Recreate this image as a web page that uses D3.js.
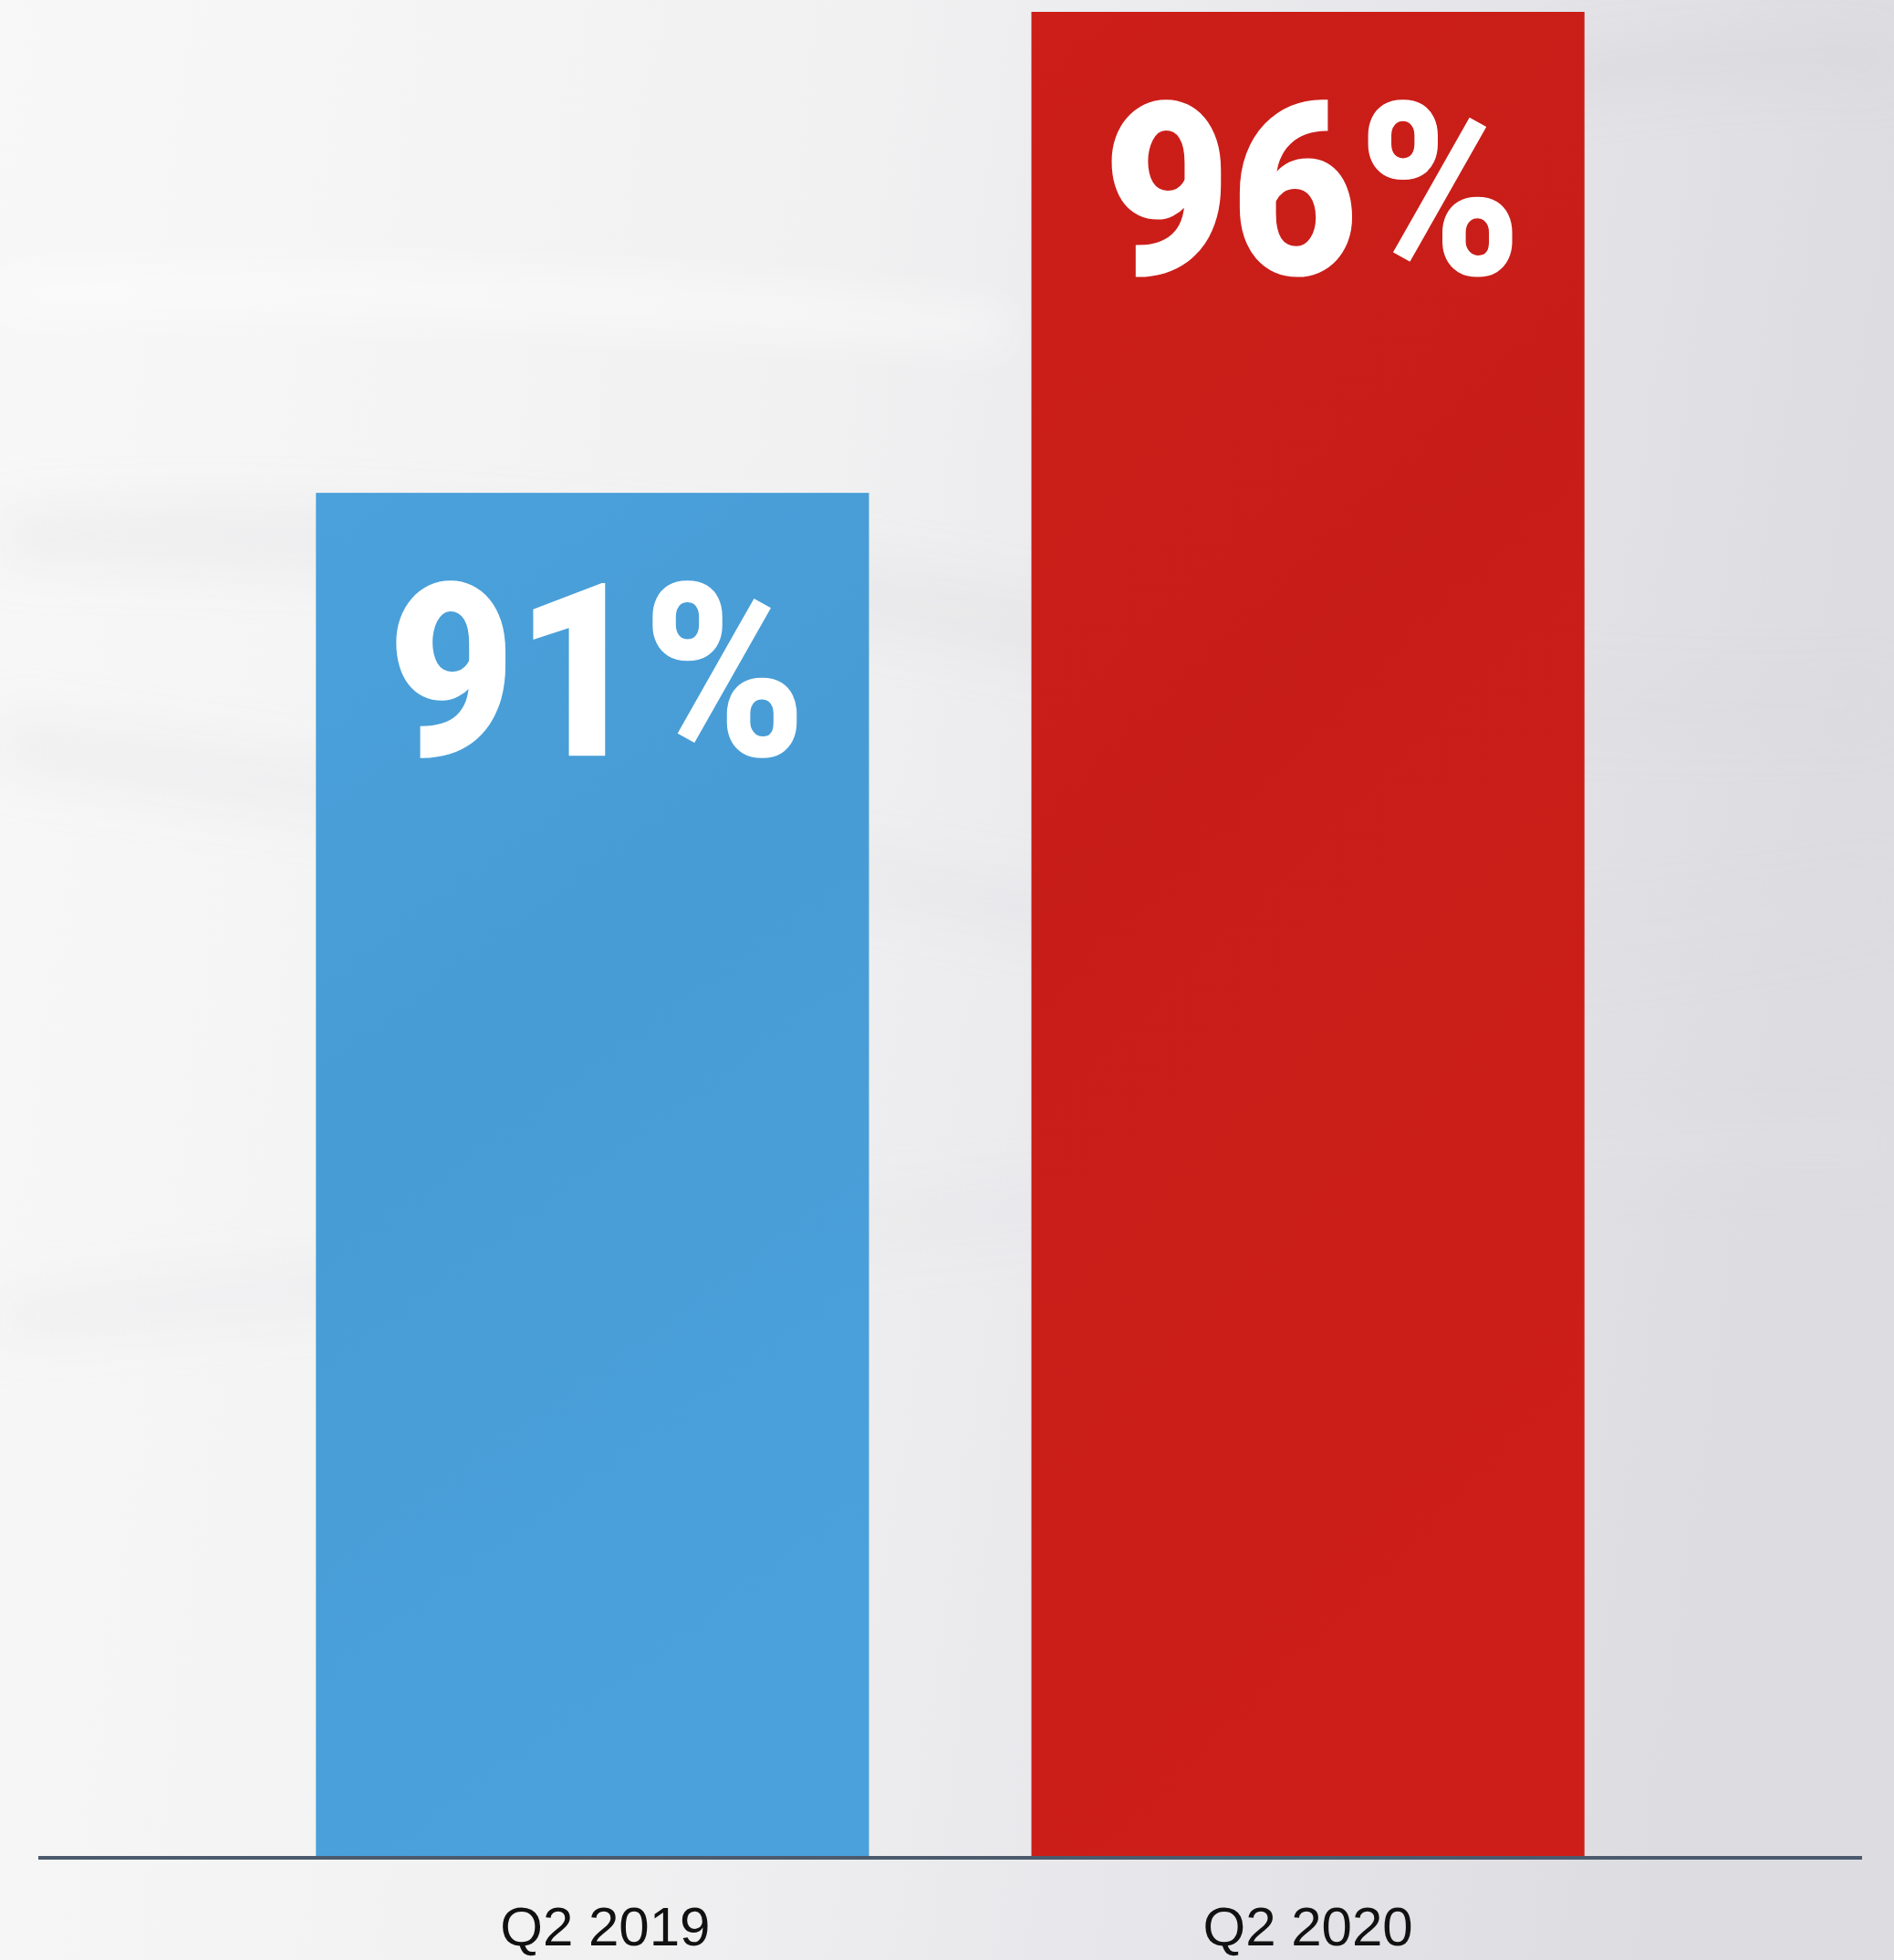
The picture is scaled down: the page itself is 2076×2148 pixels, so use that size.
<!DOCTYPE html>
<html>
<head>
<meta charset="utf-8">
<script src="https://cdn.jsdelivr.net/npm/d3@7"></script>
<style>
  html, body { margin: 0; padding: 0; background: #f2f2f3; }
  svg { display: block; }
</style>
</head>
<body>
<div id="chart"></div>
<script>
// data
var quarters = ["Q2 2019", "Q2 2020"];
var shares = [91, 96];
var valueLabels = ["91%", "96%"];
var barColors = ["#4aa1db", "#cd1e19"];

var width = 2076, height = 2148;
var baseY = 2034;

var svg = d3.select("#chart").append("svg")
    .attr("width", width)
    .attr("height", height);

var defs = svg.append("defs");

// soft grey backdrop, lighter on the left
var bg = defs.append("linearGradient").attr("id", "bg")
    .attr("x1", 0).attr("y1", 0).attr("x2", 1).attr("y2", 0.15);
bg.append("stop").attr("offset", "0%").attr("stop-color", "#f8f8f8");
bg.append("stop").attr("offset", "45%").attr("stop-color", "#f1f1f2");
bg.append("stop").attr("offset", "75%").attr("stop-color", "#e6e6ea");
bg.append("stop").attr("offset", "100%").attr("stop-color", "#dcdce1");

defs.append("filter").attr("id", "blur")
    .attr("x", "-20%").attr("y", "-50%").attr("width", "140%").attr("height", "200%")
  .append("feGaussianBlur").attr("stdDeviation", 25);

// gentle top-to-bottom variation on the bars
rows0 = barColors.map(function (c, i) {
    var g = defs.append("linearGradient").attr("id", "bar" + i)
        .attr("x1", 0).attr("y1", 0).attr("x2", 0.3).attr("y2", 1);
    g.append("stop").attr("offset", "0%").attr("stop-color", c);
    g.append("stop").attr("offset", "45%").attr("stop-color", d3.color(c).darker(0.08));
    g.append("stop").attr("offset", "100%").attr("stop-color", c);
    return "url(#bar" + i + ")";
});

svg.append("rect")
    .attr("width", width).attr("height", height)
    .attr("fill", "url(#bg)");

// faint streaks in the background
var streaks = svg.append("g").attr("filter", "url(#blur)");
streaks.append("path")
    .attr("d", "M0,560 C300,540 700,560 1100,640 C1400,700 1700,760 2076,740 L2076,800 C1700,820 1400,780 1100,720 C700,640 300,620 0,620 Z")
    .attr("fill", "#dcdcdf").attr("opacity", 0.25);
streaks.append("path")
    .attr("d", "M0,780 C400,840 800,900 1200,980 C1500,1040 1800,1000 2076,960 L2076,1010 C1800,1060 1500,1100 1200,1040 C800,960 400,900 0,850 Z")
    .attr("fill", "#e0e0e3").attr("opacity", 0.25);
streaks.append("path")
    .attr("d", "M0,1420 C400,1380 900,1320 1400,1260 C1700,1230 1900,1220 2076,1230 L2076,1280 C1900,1270 1700,1290 1400,1320 C900,1380 400,1440 0,1470 Z")
    .attr("fill", "#e6e6e9").attr("opacity", 0.3);
streaks.append("path")
    .attr("d", "M0,300 C300,280 700,300 1100,340 L1100,380 C700,350 300,340 0,350 Z")
    .attr("fill", "#ffffff").attr("opacity", 0.5);
streaks.append("path")
    .attr("d", "M1700,60 C1850,40 1950,30 2076,40 L2076,90 C1950,80 1850,90 1700,110 Z")
    .attr("fill", "#d2d2d8").attr("opacity", 0.35);

var x = d3.scaleBand()
    .domain(quarters)
    .range([42, 2041])
    .paddingInner(0.227)
    .paddingOuter(0.388);

var y = d3.scaleLinear()
    .domain([76.83, 96])
    .range([baseY, 13]);

var rows = quarters.map(function (q, i) {
    return { q: q, v: shares[i], label: valueLabels[i], fill: rows0[i] };
});

svg.selectAll("rect.bar")
    .data(rows)
  .enter().append("rect")
    .attr("class", "bar")
    .attr("x", function (d) { return x(d.q); })
    .attr("y", function (d) { return y(d.v); })
    .attr("width", x.bandwidth())
    .attr("height", function (d) { return baseY - y(d.v); })
    .attr("fill", function (d) { return d.fill; });

// big value labels inside bars
svg.selectAll("text.val")
    .data(rows)
  .enter().append("text")
    .attr("class", "val")
    .attr("x", function (d) { return x(d.q) + x.bandwidth() / 2 + 5; })
    .attr("y", function (d) { return y(d.v) + 288; })
    .attr("text-anchor", "middle")
    .attr("font-family", "Roboto, 'Liberation Sans', sans-serif")
    .attr("font-weight", 900)
    .attr("font-size", 266)
    .attr("textLength", 459)
    .attr("lengthAdjust", "spacingAndGlyphs")
    .attr("fill", "#ffffff")
    .text(function (d) { return d.label; });

// baseline
svg.append("line")
    .attr("x1", 42).attr("x2", 2041)
    .attr("y1", baseY + 2).attr("y2", baseY + 2)
    .attr("stroke", "#4b5a6c")
    .attr("stroke-width", 4);

// category labels
svg.selectAll("text.cat")
    .data(rows)
  .enter().append("text")
    .attr("class", "cat")
    .attr("x", function (d, i) { return x(d.q) + x.bandwidth() / 2 + (i === 0 ? 14 : 0); })
    .attr("y", 2132)
    .attr("text-anchor", "middle")
    .attr("font-family", "'Liberation Sans', Arial, sans-serif")
    .attr("font-size", 60)
    .attr("fill", "#111111")
    .text(function (d) { return d.q; });
</script>
</body>
</html>
